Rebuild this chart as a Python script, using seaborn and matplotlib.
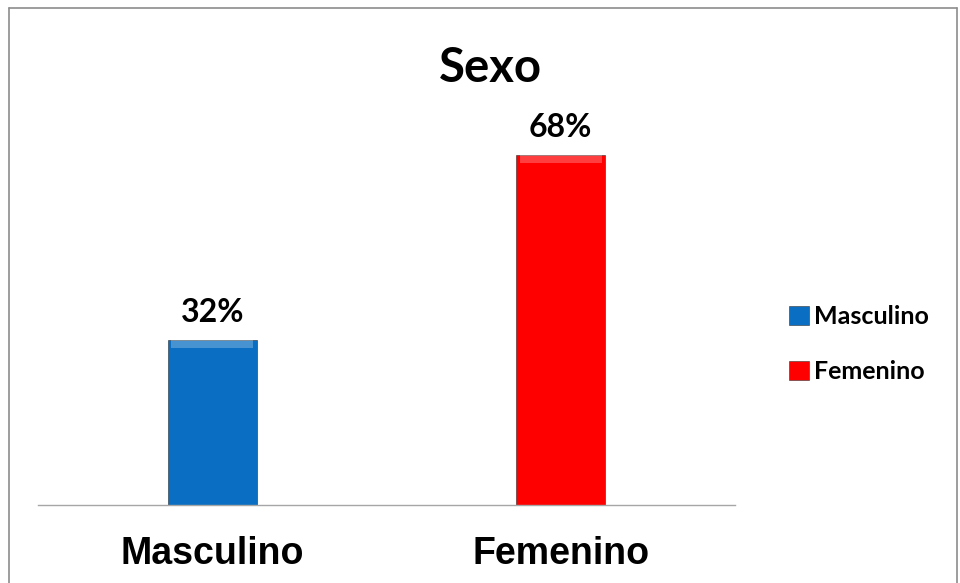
import matplotlib
matplotlib.use("Agg")
import matplotlib.pyplot as plt
from matplotlib.patches import Patch
from matplotlib.lines import Line2D
import seaborn as sns
import pandas as pd

categories = ["Masculino", "Femenino"]
values = [32, 68]
labels = ["32%", "68%"]
colors = ["#0A6FC2", "#FF0000"]

sns.set_theme(style="white")
plt.rcParams["font.family"] = ["Lato", "DejaVu Sans"]
plt.rcParams["text.color"] = "black"
plt.rcParams["xtick.color"] = "black"

df = pd.DataFrame({"sexo": categories, "pct": values})

fig = plt.figure(figsize=(9.6, 5.83), dpi=100)
ax = fig.add_axes([38 / 960, 1 - 505 / 583, (735 - 38) / 960, (505 - 93) / 583])

sns.barplot(data=df, x="sexo", y="pct", hue="sexo", palette=colors,
            width=0.255, dodge=False, legend=False, saturation=1, ax=ax,
            edgecolor="#2a2a2a", linewidth=0.4)
ax.set_ylim(0, 80)
ax.set_xlim(-0.5, 1.5)

# bevel-ish highlight along the top of each bar
for bar in ax.patches:
    x0, w, h = bar.get_x(), bar.get_width(), bar.get_height()
    ax.fill_between([x0 + w * 0.04, x0 + w * 0.96], h - 1.6, h,
                    color="white", alpha=0.25, linewidth=0)

for bar, txt in zip(ax.patches, labels):
    ax.text(bar.get_x() + bar.get_width() / 2, bar.get_height() + 2.5, txt,
            ha="center", va="bottom", fontsize=23, fontweight="bold", color="black")

ax.set_xlabel("")
ax.set_ylabel("")
ax.set_yticks([])
ax.tick_params(axis="x", length=0, pad=22)
for lbl in ax.get_xticklabels():
    lbl.set_fontfamily("Liberation Sans")
    lbl.set_fontweight("bold")
    lbl.set_fontsize(27)
    lbl.set_color("black")
for side in ["top", "right", "left"]:
    ax.spines[side].set_visible(False)
ax.spines["bottom"].set_color("#a6a6a6")
ax.spines["bottom"].set_linewidth(1.0)

fig.text(490 / 960, 1 - 68 / 583, "Sexo", ha="center", va="center",
         fontsize=34, fontweight="bold", color="black")

handles = [Patch(facecolor=c, edgecolor="#333333", linewidth=0.4) for c in colors]
fig.legend(handles, categories, loc="upper left",
           bbox_to_anchor=(766 / 960, 1 - 283 / 583), frameon=False,
           prop={"size": 18, "weight": "bold"}, handlelength=0.8, handleheight=0.8,
           handletextpad=0.2, labelspacing=1.25)

# outer frame of the chart area
frame = dict(color="#8c8c8c", linewidth=1.2, transform=fig.transFigure)
fig.add_artist(Line2D([9 / 960, 9 / 960], [0, 1 - 8 / 583], **frame))
fig.add_artist(Line2D([9 / 960, 957 / 960], [1 - 8 / 583, 1 - 8 / 583], **frame))
fig.add_artist(Line2D([957 / 960, 957 / 960], [0, 1 - 8 / 583], **frame))

fig.savefig("out.png", dpi=100)
